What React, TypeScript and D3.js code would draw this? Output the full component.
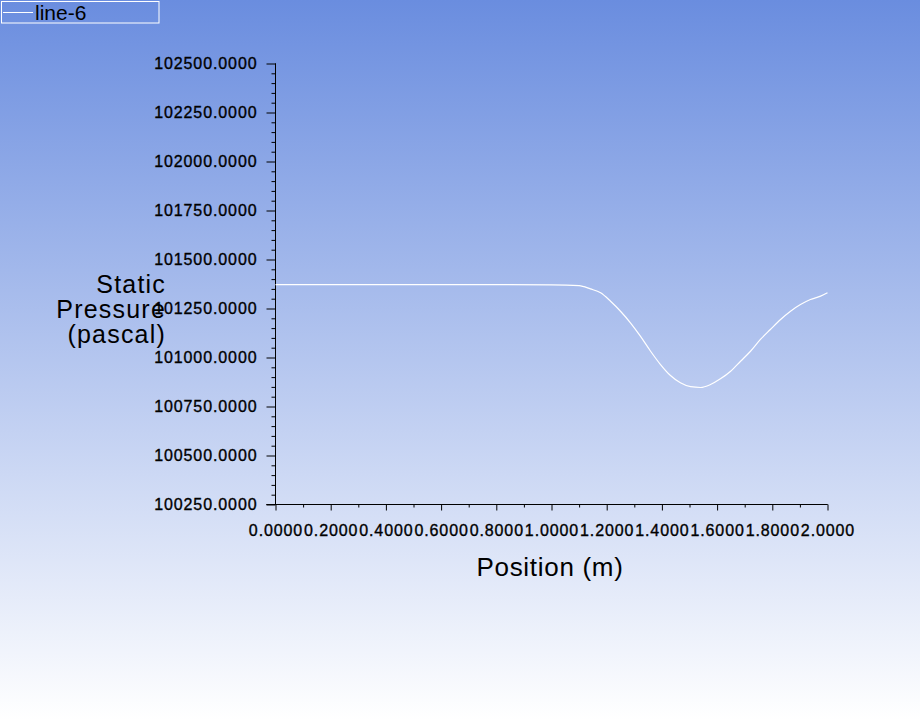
import React, { useEffect, useRef } from 'react';
import * as d3 from 'd3';

// line-6 : static pressure along the position line
const positions = [0.0, 0.2, 0.4, 0.6, 0.8, 1.0, 1.1, 1.141, 1.178, 1.214, 1.25, 1.286, 1.322, 1.359, 1.395, 1.431, 1.467, 1.504, 1.54, 1.576, 1.612, 1.649, 1.685, 1.721, 1.757, 1.793, 1.83, 1.866, 1.902, 1.938, 1.975, 2.0];
const pressures = [101372, 101372, 101372, 101372, 101372, 101371, 101367, 101350, 101330, 101287, 101236, 101177, 101109, 101032, 100964, 100908, 100871, 100851, 100847, 100862, 100891, 100930, 100981, 101032, 101092, 101143, 101194, 101236, 101270, 101296, 101313, 101330];

const yTicks = [100250, 100500, 100750, 101000, 101250, 101500, 101750, 102000, 102250, 102500];
const xTicks = [0, 0.2, 0.4, 0.6, 0.8, 1.0, 1.2, 1.4, 1.6, 1.8, 2.0];
const seriesName = 'line-6';
const xTitle = 'Position (m)';
const yTitle = ['Static', 'Pressure', '(pascal)'];

const W = 920;
const H = 720;
const FONT = '"Liberation Sans", Arial, sans-serif';

export default function App() {
  const ref = useRef<SVGSVGElement | null>(null);

  useEffect(() => {
    const svg = d3.select(ref.current);
    svg.selectAll('*').remove();

    const defs = svg.append('defs');
    const grad = defs.append('linearGradient')
      .attr('id', 'bg').attr('x1', 0).attr('y1', 0).attr('x2', 0).attr('y2', 1);
    grad.append('stop').attr('offset', '0%').attr('stop-color', '#6a8ddf');
    grad.append('stop').attr('offset', '100%').attr('stop-color', '#ffffff');
    svg.append('rect').attr('width', W).attr('height', H).attr('fill', 'url(#bg)');

    const x = d3.scaleLinear().domain([0, 2]).range([275.5, 827.5]);
    const y = d3.scaleLinear().domain([100250, 102500]).range([504.5, 63.5]);

    // y axis: minor every 50, major every 250
    const yMinor = d3.range(100250, 102501, 50).filter(v => !yTicks.includes(v));
    const gy = svg.append('g').attr('transform', `translate(${x(0)},0)`);
    gy.call(d3.axisLeft(y).tickValues(yMinor).tickSize(4).tickFormat(() => ''));
    gy.append('g').call(d3.axisLeft(y).tickValues(yTicks).tickSize(9).tickSizeOuter(0).tickFormat(() => ''));
    gy.selectAll('path.domain').attr('d', `M0,${y(100250)}V${y(102500)}`);
    gy.selectAll('line, path').attr('stroke', '#000').attr('stroke-width', 1);

    svg.append('g').selectAll('text').data(yTicks).enter().append('text')
      .attr('x', 257.5)
      .attr('y', d => y(d) + 5.5)
      .attr('text-anchor', 'end')
      .attr('font-family', FONT)
      .attr('font-size', 16)
      .attr('letter-spacing', 0.9)
      .attr('fill', '#000')
      .attr('stroke', '#000')
      .attr('stroke-width', 0.35)
      .text(d => d.toFixed(4));

    // x axis: minor every 0.1, major every 0.2
    const xMinor = d3.range(0.1, 2, 0.2);
    const gx = svg.append('g').attr('transform', `translate(0,${y(100250)})`);
    gx.call(d3.axisBottom(x).tickValues(xMinor).tickSize(3).tickFormat(() => ''));
    gx.append('g').call(d3.axisBottom(x).tickValues(xTicks).tickSize(6).tickSizeOuter(0).tickFormat(() => ''));
    gx.selectAll('path.domain').attr('d', `M${x(0) - 9},0H${x(2)}`);
    gx.selectAll('line, path').attr('stroke', '#000').attr('stroke-width', 1);

    svg.append('g').selectAll('text').data(xTicks).enter().append('text')
      .attr('x', d => x(d) + 0.5)
      .attr('y', 536)
      .attr('text-anchor', 'middle')
      .attr('font-family', FONT)
      .attr('font-size', 16)
      .attr('letter-spacing', 0.9)
      .attr('fill', '#000')
      .attr('stroke', '#000')
      .attr('stroke-width', 0.35)
      .text(d => d.toFixed(4));

    // titles
    svg.append('text')
      .attr('x', 550).attr('y', 576)
      .attr('text-anchor', 'middle')
      .attr('font-family', FONT).attr('font-size', 26).attr('letter-spacing', 0.7)
      .attr('fill', '#000')
      .text(xTitle);

    svg.append('g').selectAll('text').data(yTitle).enter().append('text')
      .attr('x', 166)
      .attr('y', (d, i) => 293 + i * 25)
      .attr('text-anchor', 'end')
      .attr('font-family', FONT).attr('font-size', 25).attr('letter-spacing', 1.2)
      .attr('fill', '#000')
      .text(d => d);

    // series line
    const line = d3.line<number>()
      .x((d, i) => x(positions[i]))
      .y(d => y(d))
      .curve(d3.curveMonotoneX);
    svg.append('path')
      .datum(pressures)
      .attr('d', line)
      .attr('fill', 'none')
      .attr('stroke', '#fff')
      .attr('stroke-width', 1.2);

    // legend
    const lg = svg.append('g');
    lg.append('rect').attr('x', 1.5).attr('y', 1.5).attr('width', 157.5).attr('height', 21.5)
      .attr('fill', 'none').attr('stroke', '#fff').attr('stroke-width', 1);
    lg.append('line').attr('x1', 3).attr('x2', 33).attr('y1', 12.5).attr('y2', 12.5)
      .attr('stroke', '#fff').attr('stroke-width', 1);
    lg.append('text').attr('x', 35).attr('y', 19.5)
      .attr('font-family', FONT).attr('font-size', 21).attr('fill', '#000')
      .text(seriesName);
  }, []);

  return (
    <svg ref={ref} width={W} height={H}
      style={{ position: 'absolute', left: 0, top: 0, display: 'block' }} />
  );
}
